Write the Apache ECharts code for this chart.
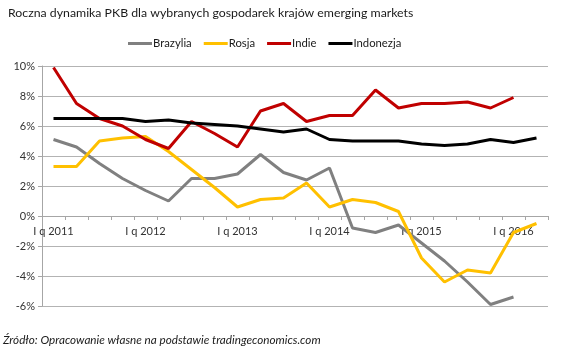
<!DOCTYPE html>
<html>
<head>
<meta charset="utf-8">
<script src="https://cdn.jsdelivr.net/npm/echarts@6/dist/echarts.min.js"></script>
<style>
html,body{margin:0;padding:0;background:#fff;}
#c{width:566px;height:356px;}
</style>
</head>
<body>
<div id="c"></div>
<script>
var categories = [
  "I q 2011","II q 2011","III q 2011","IV q 2011",
  "I q 2012","II q 2012","III q 2012","IV q 2012",
  "I q 2013","II q 2013","III q 2013","IV q 2013",
  "I q 2014","II q 2014","III q 2014","IV q 2014",
  "I q 2015","II q 2015","III q 2015","IV q 2015",
  "I q 2016","II q 2016"
];
var brazylia  = [5.1, 4.6, 3.5, 2.5, 1.7, 1.0, 2.5, 2.5, 2.8, 4.1, 2.9, 2.4, 3.2, -0.8, -1.1, -0.6, -1.8, -3.0, -4.4, -5.9, -5.4, null];
var rosja     = [3.3, 3.3, 5.0, 5.2, 5.3, 4.3, 3.1, 1.9, 0.6, 1.1, 1.2, 2.2, 0.6, 1.1, 0.9, 0.3, -2.8, -4.4, -3.6, -3.8, -1.1, -0.5];
var indie     = [9.9, 7.5, 6.5, 6.0, 5.1, 4.5, 6.3, 5.5, 4.6, 7.0, 7.5, 6.3, 6.7, 6.7, 8.4, 7.2, 7.5, 7.5, 7.6, 7.2, 7.9, null];
var indonezja = [6.5, 6.5, 6.5, 6.5, 6.3, 6.4, 6.2, 6.1, 6.0, 5.8, 5.6, 5.8, 5.1, 5.0, 5.0, 5.0, 4.8, 4.7, 4.8, 5.1, 4.9, 5.2];
var yTicks = [-6, -4, -2, 0, 2, 4, 6, 8, 10];

var FONT = "Lato";
var chart = echarts.init(document.getElementById('c'), null, {renderer: 'canvas'});
function ser(name, data, color) {
  return {
    name: name, type: 'line', data: data, symbol: 'none', smooth: false,
    connectNulls: false,
    lineStyle: {color: color, width: 3},
    itemStyle: {color: color},
    animation: false
  };
}
chart.setOption({
  animation: false,
  backgroundColor: '#ffffff',
  title: {
    text: 'Roczna dynamika PKB dla wybranych gospodarek krajów emerging markets',
    left: 3, top: 2,
    textStyle: {fontFamily: FONT, fontSize: 12.3, fontWeight: 'normal', color: '#1a1a1a'}
  },
  legend: {
    top: 33, left: 123,
    itemWidth: 24, itemHeight: 3, itemGap: 12,
    icon: 'rect',
    textStyle: {fontFamily: FONT, fontSize: 11.3, color: '#1a1a1a', padding: [0,0,0,-4]},
    data: ['Brazylia', 'Rosja', 'Indie', 'Indonezja']
  },
  graphic: [{
    type: 'text', left: 3, top: 334,
    style: {
      text: 'Źródło: Opracowanie własne na podstawie tradingeconomics.com',
      fontFamily: FONT, fontSize: 11.7, fontStyle: 'italic', fill: '#1a1a1a'
    }
  }],
  grid: {left: 42, right: 18, top: 66, bottom: 50, containLabel: false},
  xAxis: {
    type: 'category',
    data: categories,
    boundaryGap: true,
    offset: -90,
    axisLine: {onZero: false, lineStyle: {color: '#a6a6a6', width: 1}},
    axisTick: {show: true, interval: 0, alignWithLabel: false, length: 4, lineStyle: {color: '#a6a6a6'}},
    axisLabel: {interval: 3, fontFamily: FONT, fontSize: 11, color: '#333', margin: 10},
    splitLine: {show: false}
  },
  yAxis: {
    type: 'value',
    min: -6, max: 10, interval: 2,
    axisLine: {show: true, lineStyle: {color: '#a6a6a6', width: 1}},
    axisTick: {show: true, length: 4, lineStyle: {color: '#a6a6a6'}},
    axisLabel: {
      fontFamily: FONT, fontSize: 11, color: '#333', margin: 7,
      formatter: function (v) { return yTicks.indexOf(v) >= 0 ? v + '%' : ''; }
    },
    splitLine: {show: true, lineStyle: {color: '#b3b3b3', width: 1}}
  },
  series: [
    ser('Brazylia', brazylia, '#808080'),
    ser('Rosja', rosja, '#FFC000'),
    ser('Indie', indie, '#C00000'),
    ser('Indonezja', indonezja, '#000000')
  ]
});
</script>
</body>
</html>
